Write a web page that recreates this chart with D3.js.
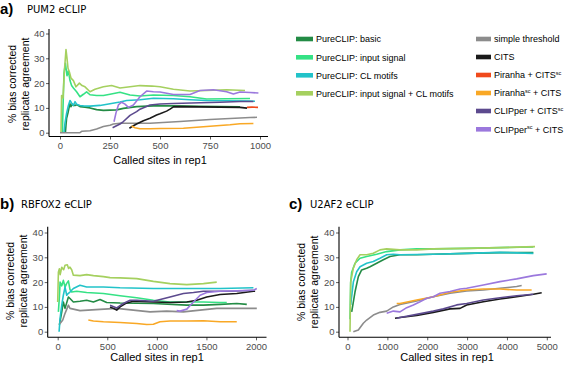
<!DOCTYPE html>
<html><head><meta charset="utf-8">
<script src="https://cdn.jsdelivr.net/npm/d3@7"></script>
<style>
body{margin:0;background:#fff;}
svg{display:block;font-family:"Liberation Sans",Arial,sans-serif;}
</style></head><body>
<svg id="c" width="567" height="365"></svg>
<script>
// ---- series names / legend ----
const seriesNames = ["PureCLIP: basic","PureCLIP: input signal","PureCLIP: CL motifs","PureCLIP: input signal + CL motifs",
  "simple threshold","CITS","Piranha + CITS^sc","Piranha^sc + CITS","CLIPper + CITS^sc","CLIPper^sc + CITS"];
const seriesColors = ["#238b45","#35e285","#22c3c9","#a5d05f","#8c8c8c","#1a1a1a","#f04a1c","#f9a825","#5c4a8e","#9b78dd"];

// ---- Panel a: PUM2 ----
const a_basic = [[27,0],[30,3],[33,5.8],[40,8],[45,10],[50,11.7],[55,10.5],[62,11.5],[67,11],[75,11],[83,11.3],[100,10.5],[125,10.3],[150,10],[183,9.3],[217,9],[250,9.1],[283,9.2],[317,9.8],[383,10.5],[467,10.8],[567,10.8],[700,10.6],[800,10.5],[900,10.4]];
const a_input = [[12,0],[15,10],[20,24],[27,28],[35,23],[42,25],[50,21],[58,19],[67,18],[83,16.5],[100,14.5],[117,15.5],[133,16.5],[150,15.3],[183,15],[217,15],[250,15.5],[300,16.3],[350,15.2],[400,14.8],[467,15.2],[567,15],[650,14.5],[733,13.6],[833,13.7],[950,13.8]];
const a_cl = [[20,0],[25,4],[33,7.8],[42,11],[50,13],[58,12],[67,11],[75,12.5],[83,11.5],[100,11],[117,10.8],[150,10.7],[200,11],[250,11.7],[300,12.4],[333,13],[400,13.3],[467,13.9],[567,13.7],[650,13.3],[733,13],[833,12.9],[950,12.8],[975,12.7]];
const a_inputCl = [[5,0],[8,15],[15,14],[22,25],[30,33.5],[35,30],[40,26],[47,24.5],[55,22],[67,21],[80,18.5],[97,20],[110,19],[125,18.5],[150,16.5],[175,17.5],[217,18.5],[258,19],[300,18],[350,18.5],[400,19],[460,18.8],[500,18.5],[567,17.5],[650,16.8],[733,17],[833,17.3],[925,17]];
const a_simple = [[0,0],[100,0],[110,0.6],[150,0.8],[183,1.5],[217,2.5],[250,3],[267,3.5],[300,3.8],[450,3.8],[600,4.5],[750,5.3],[950,6.1],[985,6.2]];
const a_cits = [[347,1.8],[360,2.5],[383,3.5],[417,4.8],[450,5.8],[483,7.1],[500,7.6],[533,8.7],[550,9.5],[567,10.4],[600,10.5],[700,10.4],[800,10.3],[900,10.2],[935,9.9]];
const a_piranhaCitsSc = [[935,10.2],[960,10.3],[990,10.2]];
const a_piranhaScCits = [[358,2.7],[375,2],[400,1.6],[450,1.6],[500,1.7],[617,1.8],[700,2.3],[783,2.8],[850,3.2],[900,3.6],[967,3.7]];
const a_clipperCitsSc = [[263,2],[275,2.5],[300,3.5],[317,4.5],[350,7],[383,8.5],[400,9.5],[450,11.2],[500,11.6],[567,11.8],[700,12.1],[800,12.3],[900,12.6],[967,12.6]];
const a_clipperScCits = [[270,4.4],[280,8],[292,11.2],[308,12.3],[325,11.5],[342,10.2],[367,11.2],[400,14.5],[433,16.8],[467,16.5],[500,16.4],[567,15.4],[650,15.4],[700,17],[767,17.3],[833,16.5],[867,15.6],[900,16.4],[950,16.2],[992,16]];

// ---- Panel b: RBFOX2 ----
const b_basic = [[17,2.7],[41,8],[57,12],[74,9.4],[108,14],[124,13.4],[158,12],[225,12.3],[292,12.7],[360,12],[427,13],[494,11.8],[629,11.6],[965,11.4],[1302,10.7],[1470,10.7],[1638,11],[1806,11.4],[1907,11]];
const b_input = [[7,8],[17,14],[24,20],[41,18.5],[57,20.7],[74,18],[91,19.5],[108,20.5],[124,17],[141,16],[192,16.3],[292,15.8],[461,15.4],[629,14.5],[797,13.7],[965,12.7],[1133,12],[1302,12],[1470,12],[1638,11.8],[1705,11.8]];
const b_cl = [[14,0],[24,5.4],[41,10.7],[57,14.7],[74,18],[91,14.7],[108,15.5],[124,16],[158,17.4],[225,18.7],[292,18],[461,18],[629,17.7],[965,17.4],[1302,17.4],[1638,17.4],[1974,17.7]];
const b_inputCl = [[0,12],[7,24],[17,25.4],[25,23],[41,26],[60,25],[74,26.8],[97,27],[110,25.5],[124,26],[141,25],[158,22.8],[225,22.6],[292,23],[361,22.6],[461,22.2],[528,21.8],[629,21.7],[797,21.4],[965,20.3],[1133,19.4],[1302,19],[1470,19.4],[1604,20]];
const b_simple = [[24,3.3],[51,4.7],[74,7.4],[108,10.7],[124,9.4],[158,9.1],[225,8.5],[427,9],[595,9.4],[763,8.7],[931,8],[1099,8.3],[1267,8],[1435,8.7],[1603,9.4],[2008,9.4]];
const b_cits = [[528,10],[561,9.4],[595,8.7],[629,10],[696,11.6],[763,12.3],[965,12],[1133,11.8],[1302,12],[1402,12.7],[1503,14],[1638,15],[1806,15.4],[1974,16.3],[1991,16.3]];
const b_piranhaCitsSc = [];
const b_piranhaScCits = [[309,4.7],[360,4.3],[461,4],[629,3.7],[797,3.3],[898,2.9],[965,3],[1032,4],[1133,4.3],[1302,4.3],[1470,4.4],[1638,4],[1806,4]];
const b_clipperCitsSc = [[528,10.7],[595,9.6],[662,11.4],[730,12.7],[797,12.7],[965,12.3],[1133,14],[1268,15.4],[1369,15.8],[1470,16.3],[1638,16.3],[1806,16.4],[1974,16.7]];
const b_clipperScCits = [[1200,8.5],[1234,8.3],[1302,9.1],[1369,12],[1436,14.7],[1503,15.8],[1638,16.3],[1974,16.7],[2008,17.4]];

// ---- Panel c: U2AF2 ----
const c_basic = [[105,8],[188,16],[272,22.2],[355,24.9],[481,25.6],[565,26.2],[732,27.6],[899,29],[1066,30.3],[1317,31],[1736,31],[2154,31.2],[2990,31.6],[3826,31.9],[4662,31.9]];
const c_input = [[63,5],[80,20],[105,24],[188,27.6],[314,29.6],[481,30.3],[732,31.2],[983,32.3],[1317,33],[1736,33.4],[2154,33.4],[2990,33.6],[3826,33.9],[4662,34.2]];
const c_cl = [[80,10.8],[146,20],[230,24.2],[314,26.2],[481,27.6],[648,28.3],[815,29.6],[983,31],[1150,31.2],[1317,31],[2154,31.2],[2990,31.6],[3826,32],[4662,31.6]];
const c_inputCl = [[63,0],[80,20],[146,25.6],[230,29],[314,31],[481,31],[648,31.6],[815,33],[983,33.4],[1317,33],[1736,33],[2154,33.4],[2990,33.6],[3826,33.9],[4704,34.3]];
const c_simple = [[146,0],[272,0.7],[397,3.4],[481,4.7],[648,6.7],[815,7.8],[983,8.3],[1150,10],[1317,11],[1736,12.4],[2154,14.1],[2572,15.5],[2990,16.4],[3408,16.8],[3826,17.5],[4244,18.2],[4370,18.6]];
const c_cits = [[1192,5.4],[1317,5.7],[1736,6.5],[2154,7.8],[2572,9.2],[2823,9.4],[2990,10.8],[3408,12.1],[3826,13.2],[4244,14.1],[4662,15.1],[4872,15.7]];
const c_piranhaCitsSc = [];
const c_piranhaScCits = [[1234,11.4],[1317,11.4],[1736,12.8],[2154,14.1],[2572,15.9],[2990,16.8],[3408,17.2],[3826,17.2],[4244,16.8],[4620,16.8]];
const c_clipperCitsSc = [[1234,5.4],[1317,5.7],[1736,7],[2154,8.3],[2405,9.2],[2739,10.8],[2990,11.4],[3408,12.8],[3826,13.7],[4244,14.5],[4662,15.1]];
const c_clipperScCits = [[983,7.4],[1150,8.3],[1317,8],[1485,9.7],[1652,10.8],[1819,12.1],[1987,13.5],[2154,14.1],[2321,15.5],[2572,16.2],[2823,17.2],[2990,17.5],[3408,18.8],[3826,20.2],[4244,21.3],[4662,22.6],[4997,23.3]];

// ---- ticks / titles ----
const yTicks = [0,10,20,30,40];
const aXTicks = [0,250,500,750,1000];
const bXTicks = [0,500,1000,1500,2000];
const cXTicks = [0,1000,2000,3000,4000,5000];
const panelLetters = ["a)","b)","c)"];
const panelTitles = ["PUM2 eCLIP","RBFOX2 eCLIP","U2AF2 eCLIP"];
const xTitle = "Called sites in rep1";
const yTitleLines = ["% bias corrected","replicate agreement"];

const svg = d3.select("#c");

const panels = [
  {series:[a_basic,a_input,a_cl,a_inputCl,a_simple,a_cits,a_piranhaCitsSc,a_piranhaScCits,a_clipperCitsSc,a_clipperScCits],
   xd:[0,1000], xr:[60,260], yr:[132.7,33.5], ax:49, ay:136.5, top:29, right:268, xt:aXTicks,
   titleX:0, titleY:14, ttX:27, ylx:[12,25], ylc:84, xtc:160, xty:164},
  {series:[b_basic,b_input,b_cl,b_inputCl,b_simple,b_cits,b_piranhaCitsSc,b_piranhaScCits,b_clipperCitsSc,b_clipperScCits],
   xd:[0,2000], xr:[57.7,256], yr:[331.7,232.5], ax:47.7, ay:337.3, top:226.7, right:266.5, xt:bXTicks,
   titleX:0, titleY:208.5, ttX:21, ylx:[10,23], ylc:281, xtc:157, xty:361},
  {series:[c_basic,c_input,c_cl,c_inputCl,c_simple,c_cits,c_piranhaCitsSc,c_piranhaScCits,c_clipperCitsSc,c_clipperScCits],
   xd:[0,5000], xr:[347.5,546.8], yr:[331.7,232.5], ax:339, ay:337.3, top:226.7, right:551, xt:cXTicks,
   titleX:289, titleY:208.5, ttX:310, ylx:[301,313.5], ylc:282, xtc:447, xty:361}
];

panels.forEach((p,pi)=>{
  const x = d3.scaleLinear().domain(p.xd).range(p.xr);
  const y = d3.scaleLinear().domain([0,40]).range(p.yr);
  const g = svg.append("g");
  const line = d3.line().x(d=>x(d[0])).y(d=>y(d[1]));
  p.series.forEach((s,i)=>{
    if(!s.length) return;
    g.append("path").attr("d",line(s)).attr("fill","none")
      .attr("stroke",seriesColors[i]).attr("stroke-width",1.6).attr("stroke-linejoin","round");
  });
  const xa = g.append("g").attr("transform",`translate(0,${p.ay})`)
    .call(d3.axisBottom(x).tickValues(p.xt).tickSize(3).tickPadding(2.5).tickFormat(d3.format("d")));
  const ya = g.append("g").attr("transform",`translate(${p.ax},0)`)
    .call(d3.axisLeft(y).tickValues(yTicks).tickSize(3).tickPadding(1.5));
  [xa,ya].forEach(a=>{
    a.select(".domain").remove();
    a.selectAll(".tick line").attr("stroke","#333").attr("stroke-width",0.8);
    a.selectAll(".tick text").attr("fill","#4d4d4d").style("font-size","9.5px")
      .style("font-family","'Liberation Sans',Arial,sans-serif");
  });
  g.append("line").attr("x1",p.ax).attr("x2",p.right).attr("y1",p.ay).attr("y2",p.ay)
    .attr("stroke","#000").attr("stroke-width",1.1);
  g.append("line").attr("x1",p.ax).attr("x2",p.ax).attr("y1",p.top).attr("y2",p.ay)
    .attr("stroke","#000").attr("stroke-width",1.1);
  g.append("text").attr("x",p.xtc).attr("y",p.xty).attr("text-anchor","middle")
    .style("font-size","11px").attr("fill","#000").text(xTitle);
  yTitleLines.forEach((t,k)=>{
    g.append("text").attr("transform",`translate(${p.ylx[k]},${p.ylc}) rotate(-90)`)
      .attr("text-anchor","middle").attr("dominant-baseline","central")
      .style("font-size","10.5px").attr("fill","#000").text(t);
  });
  g.append("text").attr("x",p.titleX).attr("y",p.titleY).style("font-size","15px")
    .style("font-weight","bold").attr("fill","#000").text(panelLetters[pi]);
  g.append("text").attr("x",p.ttX).attr("y",p.titleY-1).style("font-size","10px")
    .style("font-family","'DejaVu Sans',sans-serif").attr("fill","#000").text(panelTitles[pi]);
});

// legend
const legPos = [
  [296,39,17],[296,57.3,17],[296,75.3,17],[296,93.3,17],
  [476,39,15],[476,57,15],[476,75,15],[476,93,15],[476,111,15],[476,129.3,15]
];
seriesNames.forEach((name,i)=>{
  const [lx,ly,lw] = legPos[i];
  svg.append("rect").attr("x",lx).attr("y",ly-2.3).attr("width",lw).attr("height",4.6).attr("fill",seriesColors[i]);
  const t = svg.append("text").attr("x",lx+lw+3).attr("y",ly+3.2).style("font-size","9px").attr("fill","#000");
  const parts = name.split("^");
  t.append("tspan").text(parts[0]);
  for(let k=1;k<parts.length;k++){
    const m = parts[k].match(/^(\w+)(.*)$/);
    t.append("tspan").attr("dy",-3.5).style("font-size","5.5px").text(m[1]);
    t.append("tspan").attr("dy",3.5).text(m[2]);
  }
});
</script>
</body></html>
